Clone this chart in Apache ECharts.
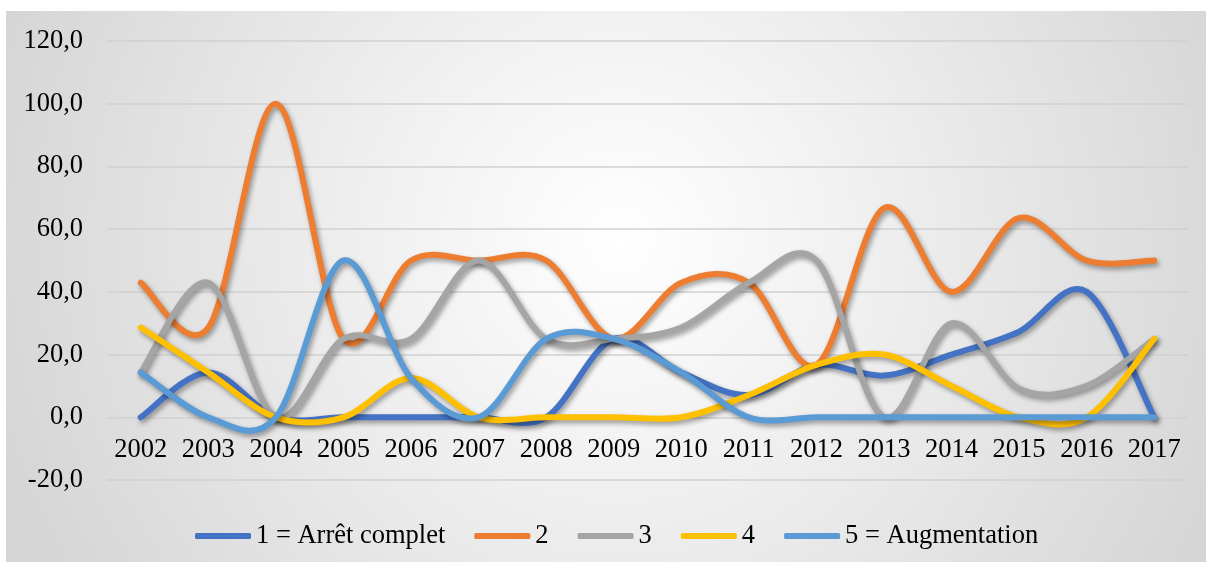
<!DOCTYPE html>
<html>
<head>
<meta charset="utf-8">
<script src="https://cdn.jsdelivr.net/npm/echarts@6/dist/echarts.min.js"></script>
<style>
html,body{margin:0;padding:0;background:#ffffff;}
#chart{position:absolute;left:6px;top:11px;width:1200px;height:551px;}
</style>
</head>
<body>
<div id="chart"></div>
<script>
const years = ['2002','2003','2004','2005','2006','2007','2008','2009','2010','2011','2012','2013','2014','2015','2016','2017'];
const seriesNames = ['1 = Arrêt complet', '2', '3', '4', '5 = Augmentation'];
const s1 = [0, 14.3, 0, 0, 0, 0, 0, 25.0, 14.3, 7.1, 16.7, 13.3, 20.0, 27.3, 40.0, 0];
const s2 = [42.9, 28.6, 100, 25.0, 50.0, 50.0, 50.0, 25.0, 42.9, 42.9, 16.7, 66.7, 40.0, 63.6, 50.0, 50.0];
const s3 = [14.3, 42.9, 0, 25.0, 25.0, 50.0, 25.0, 25.0, 28.6, 42.9, 50.0, 0, 30.0, 9.1, 10.0, 25.0];
const s4 = [28.6, 14.3, 0, 0, 12.5, 0, 0, 0, 0, 7.1, 16.7, 20.0, 10.0, 0, 0, 25.0];
const s5 = [14.3, 0, 0, 50.0, 12.5, 0, 25.0, 25.0, 14.3, 0, 0, 0, 0, 0, 0, 0];
const yTicks = { min: -20, max: 120, interval: 20 };
const colors = ['#4472C4', '#ED7D31', '#A5A5A5', '#FFC000', '#5B9BD5'];

const allData = [s1, s2, s3, s4, s5];
const font = 'Liberation Serif';
const gridTop = 30, gridBottom = 82, chartH = 551;
const gridH = chartH - gridTop - gridBottom;
// move category axis to the zero line of the value axis
const xOffset = -gridH * (0 - yTicks.min) / (yTicks.max - yTicks.min);

// Excel-like smooth curve (Catmull-Rom through the points, in pixel space from the axes)
function makeRender(data, color) {
  return function (params, api) {
    if (params.dataIndex !== 0) return null;
    const pts = data.map((v, i) => api.coord([i, v]));
    const n = pts.length;
    let d = 'M' + pts[0][0] + ',' + pts[0][1];
    for (let i = 0; i < n - 1; i++) {
      const p0 = pts[Math.max(i - 1, 0)], p1 = pts[i], p2 = pts[i + 1], p3 = pts[Math.min(i + 2, n - 1)];
      const c1x = p1[0] + (p2[0] - p0[0]) / 6, c1y = p1[1] + (p2[1] - p0[1]) / 6;
      const c2x = p2[0] - (p3[0] - p1[0]) / 6, c2y = p2[1] - (p3[1] - p1[1]) / 6;
      d += ' C' + c1x + ',' + c1y + ',' + c2x + ',' + c2y + ',' + p2[0] + ',' + p2[1];
    }
    return {
      type: 'path',
      shape: { pathData: d },
      style: {
        fill: 'none', stroke: color, lineWidth: 6, lineCap: 'round', lineJoin: 'round',
        shadowColor: 'rgba(0,0,0,0.38)', shadowBlur: 5, shadowOffsetX: 2, shadowOffsetY: 3
      }
    };
  };
}

const chart = echarts.init(document.getElementById('chart'), null, { renderer: 'canvas' });
const option = {
  animation: false,
  graphic: [{
    type: 'rect', z: -100, silent: true,
    shape: { x: 0, y: 0, width: 1200, height: 551 },
    style: {
      fill: {
        type: 'radial', x: 614, y: 229, r: 660, global: true,
        colorStops: [
          { offset: 0, color: '#ffffff' },
          { offset: 0.35, color: '#f1f1f1' },
          { offset: 1, color: '#d5d5d5' }
        ]
      }
    }
  }],
  grid: { left: 101, right: 18, top: gridTop, bottom: gridBottom, containLabel: false },
  legend: {
    left: 189, top: 510, padding: 0,
    icon: 'roundRect', itemWidth: 56, itemHeight: 6, itemGap: 29,
    textStyle: { fontFamily: font, fontSize: 26.5, color: '#000', lineHeight: 30 },
    data: seriesNames
  },
  xAxis: {
    type: 'category', data: years, boundaryGap: true,
    offset: xOffset,
    axisLine: { show: false, onZero: false },
    axisTick: { show: false },
    axisLabel: { fontFamily: font, fontSize: 26.5, color: '#000', margin: 19, interval: 0 }
  },
  yAxis: {
    type: 'value', min: yTicks.min, max: yTicks.max, interval: yTicks.interval,
    axisLine: { show: false }, axisTick: { show: false },
    splitLine: { lineStyle: { color: '#d0d0d0', width: 1.5 } },
    axisLabel: {
      fontFamily: font, fontSize: 26.5, color: '#000', margin: 24,
      formatter: v => v.toFixed(1).replace('.', ',')
    }
  },
  series: allData.map((d, i) => ({
    name: seriesNames[i], type: 'custom', coordinateSystem: 'cartesian2d',
    data: d.map((v, j) => [j, v]),
    encode: { x: 0, y: 1 },
    color: colors[i],
    itemStyle: { color: colors[i] },
    renderItem: makeRender(d, colors[i]),
    z: 2 + i
  }))
};
chart.setOption(option);
</script>
</body>
</html>
